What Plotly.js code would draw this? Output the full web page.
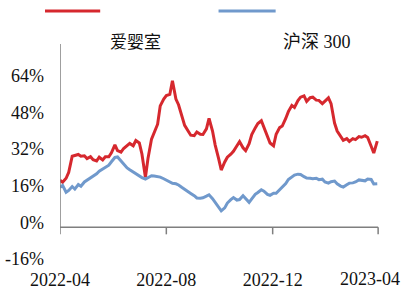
<!DOCTYPE html>
<html><head><meta charset="utf-8">
<script src="https://cdn.plot.ly/plotly-3.0.1.min.js"></script>
<style>html,body{margin:0;padding:0;background:#fff}#chart{width:404px;height:293px}</style>
</head><body><div id="chart"></div>
<script>
const dates = [
"2022-04-01","2022-04-04","2022-04-08","2022-04-11","2022-04-15","2022-04-18","2022-04-22","2022-04-25","2022-04-29",
"2022-05-02","2022-05-06","2022-05-09","2022-05-13","2022-05-16","2022-05-20","2022-05-23","2022-05-27","2022-05-30",
"2022-06-03","2022-06-06","2022-06-10","2022-06-13","2022-06-17","2022-06-20","2022-06-24","2022-06-27",
"2022-07-01","2022-07-04","2022-07-08","2022-07-11","2022-07-15","2022-07-18","2022-07-22","2022-07-25","2022-07-29",
"2022-08-01","2022-08-05","2022-08-08","2022-08-12","2022-08-15","2022-08-19","2022-08-22","2022-08-26","2022-08-29",
"2022-09-02","2022-09-05","2022-09-09","2022-09-12","2022-09-16","2022-09-19","2022-09-23","2022-09-26","2022-09-30",
"2022-10-03","2022-10-07","2022-10-10","2022-10-14","2022-10-17","2022-10-21","2022-10-24","2022-10-28","2022-10-31",
"2022-11-04","2022-11-07","2022-11-11","2022-11-14","2022-11-18","2022-11-21","2022-11-25","2022-11-28",
"2022-12-02","2022-12-05","2022-12-09","2022-12-12","2022-12-16","2022-12-19","2022-12-23","2022-12-26","2022-12-30",
"2023-01-02","2023-01-06","2023-01-09","2023-01-13","2023-01-16","2023-01-20","2023-01-23","2023-01-27","2023-01-30",
"2023-02-03","2023-02-06","2023-02-10","2023-02-13","2023-02-17","2023-02-20","2023-02-24","2023-02-27",
"2023-03-03","2023-03-06","2023-03-10","2023-03-13","2023-03-17","2023-03-20","2023-03-24","2023-03-27","2023-03-31"
];
const aiyingshi = [
20.5,19.7,21.4,24.0,31.0,31.2,31.8,31.0,31.2,
30.0,30.8,29.5,29.0,30.6,29.4,30.8,30.8,32.5,
36.0,33.5,32.8,34.4,35.8,36.6,35.6,37.9,
36.8,32.0,21.8,30.2,38.5,41.2,45.0,53.0,56.0,
57.5,58.0,64.0,56.0,53.5,48.0,44.5,42.0,40.2,
40.0,41.6,40.6,40.5,43.0,47.5,42.0,36.0,30.0,
25.0,28.5,30.6,31.9,33.2,35.6,37.4,34.7,33.5,
36.5,40.5,43.4,45.3,46.5,43.6,39.0,36.8,
35.6,40.6,43.5,44.2,47.5,50.5,53.2,52.3,55.3,
56.8,57.4,55.0,56.6,56.8,55.5,55.4,54.0,55.0,
56.5,54.0,45.5,42.0,39.6,38.0,38.7,37.5,
38.7,38.3,39.6,39.3,40.0,39.2,35.4,32.4,37.6
];
const hs300 = [
17.5,18.3,15.3,16.1,17.8,16.7,18.7,17.9,19.8,
20.5,21.5,22.3,23.4,24.5,25.5,26.2,27.1,28.6,
30.5,30.7,28.8,27.6,25.9,25.1,24.1,23.5,
22.7,21.7,21.1,21.7,22.5,22.4,22.1,21.9,21.2,
20.7,19.8,19.2,19.0,18.5,17.4,16.5,15.6,14.8,
13.8,12.8,12.7,12.9,13.6,14.2,12.5,10.9,9.0,
7.2,8.5,10.6,12.1,13.0,11.9,12.1,13.8,12.5,
10.9,12.4,14.4,15.2,16.4,15.8,14.4,14.0,
14.9,14.9,16.4,17.5,19.1,20.9,22.0,22.8,23.2,
23.1,22.1,21.5,21.4,21.2,21.4,20.8,21.0,19.8,
19.3,19.9,20.2,19.0,18.0,17.6,18.6,19.3,
19.4,19.8,20.7,20.6,20.3,21.1,20.9,18.9,19.0
];
const seriesNames = ["爱婴室", "沪深 300"];
const yTickVals = [-16, 0, 16, 32, 48, 64];
const yTickText = ["-16%", "0%", "16%", "32%", "48%", "64%"];
const yAxisTicks = [0, 16, 32, 48, 64, 80];
const xTickVals = ["2022-04-01", "2022-08-01", "2022-12-01", "2023-04-01"];
const xTickText = ["2022-04", "2022-08", "2022-12", "2023-04"];

const RED = "#d6282e", BLUE = "#7099cc", AX = "#7f7f7f";
const FONT = "Liberation Serif";
const LEGFONT = "Liberation Serif, Noto Sans CJK SC";

const traces = [
  {x: dates, y: aiyingshi, type: "scatter", mode: "lines", name: seriesNames[0],
   line: {color: RED, width: 3}, showlegend: false, hoverinfo: "skip"},
  {x: dates, y: hs300, type: "scatter", mode: "lines", name: seriesNames[1],
   line: {color: BLUE, width: 3}, showlegend: false, hoverinfo: "skip"}
];

const shapes = [];
shapes.push({type: "line", xref: "x", yref: "y", x0: xTickVals[0], x1: xTickVals[0], y0: 0, y1: 80,
  line: {color: AX, width: 1.5}});
shapes.push({type: "line", xref: "x", yref: "y", x0: xTickVals[0], x1: xTickVals[3], y0: 0, y1: 0,
  line: {color: AX, width: 1.5}});
yAxisTicks.forEach(v => shapes.push({type: "line", xref: "x", yref: "y", xsizemode: "pixel",
  xanchor: xTickVals[0], x0: -6, x1: 0, y0: v, y1: v, line: {color: AX, width: 1.5}}));
xTickVals.forEach(d => shapes.push({type: "line", xref: "x", yref: "y", ysizemode: "pixel",
  yanchor: 0, y0: 0, y1: -7, x0: d, x1: d, line: {color: AX, width: 1.5}}));
shapes.push({type: "line", xref: "paper", yref: "paper", x0: -0.047, x1: 0.126, y0: 1.15, y1: 1.15,
  line: {color: RED, width: 3}});
shapes.push({type: "line", xref: "paper", yref: "paper", x0: 0.497, x1: 0.676, y0: 1.15, y1: 1.15,
  line: {color: BLUE, width: 3}});

const annotations = [
  {xref: "paper", yref: "paper", x: 0.236, y: 1.009, text: seriesNames[0], showarrow: false,
   font: {family: LEGFONT, size: 17, color: "#111"}, xanchor: "center", yanchor: "middle"},
  {xref: "paper", yref: "paper", x: 0.806, y: 1.009, text: seriesNames[1], showarrow: false,
   font: {family: LEGFONT, size: 18, color: "#111"}, xanchor: "center", yanchor: "middle"},
  // last date label, kept inside the picture like the reference
  {xref: "paper", yref: "paper", x: 1.072, y: -0.07, text: xTickText[3], showarrow: false,
   font: {family: FONT, size: 18, color: "#111"}, xanchor: "right", yanchor: "middle"}
];

const layout = {
  width: 404, height: 293,
  margin: {l: 60, r: 25, t: 44, b: 29},
  paper_bgcolor: "#fff", plot_bgcolor: "#fff",
  showlegend: false,
  font: {family: FONT},
  xaxis: {type: "date", range: ["2022-04-01", "2023-04-02"], showgrid: false, zeroline: false,
    showline: false, ticks: "", tickvals: xTickVals.slice(0, 3), ticktext: xTickText.slice(0, 3),
    tickfont: {family: FONT, size: 18, color: "#111"}, ticklabelstandoff: 3},
  yaxis: {range: [-16, 80], showgrid: false, zeroline: false, showline: false, ticks: "",
    tickvals: yTickVals, ticktext: yTickText, ticklabelshift: -5, ticklabelstandoff: 15,
    tickfont: {family: FONT, size: 18, color: "#111"}},
  shapes: shapes,
  annotations: annotations
};

Plotly.newPlot("chart", traces, layout, {staticPlot: true, displayModeBar: false});
</script></body></html>
